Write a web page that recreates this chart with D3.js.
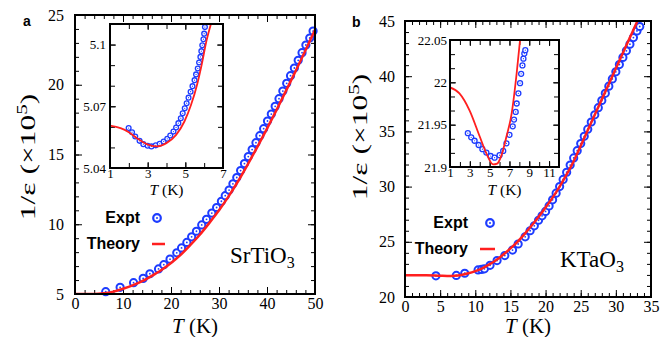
<!DOCTYPE html>
<html>
<head>
<meta charset="utf-8">
<script src="https://cdnjs.cloudflare.com/ajax/libs/d3/7.8.5/d3.min.js"></script>
<style>
  body { margin: 0; background: #fff; }
</style>
</head>
<body>
<div id="chart"></div>
<script>
// ---- panel a : SrTiO3 ----
const aExptT = [6.4, 9.4, 12.2, 14.2, 15.6, 17.4, 18.5, 19.8, 21.2, 22.2, 23.3, 24.3, 25.3, 26.4, 27.4, 28.5, 29.5, 30.5,
  31.3, 32.1, 32.9, 33.7, 34.5, 35.3, 36.1, 36.9, 37.7, 38.5, 39.3, 40.1, 40.9, 41.7, 42.5, 43.3, 44.1, 44.9, 45.7, 46.5,
  47.3, 48.1, 48.9, 49.6];
const aExptV = [5.17, 5.48, 5.81, 6.12, 6.45, 6.8, 7.1, 7.5, 7.95, 8.3, 8.7, 9.1, 9.5, 9.95, 10.35, 10.8, 11.2, 11.65,
  12.05, 12.45, 12.9, 13.35, 13.85, 14.35, 14.85, 15.35, 15.85, 16.35, 16.85, 17.4, 17.9, 18.45, 19.0, 19.55, 20.1, 20.65,
  21.2, 21.75, 22.3, 22.85, 23.35, 23.85];
const aTheoryT = [0, 4, 6, 8, 10, 12, 14, 16, 18, 20, 22, 24, 26, 28, 30, 32, 34, 36, 38, 40, 42, 44, 46, 48, 50];
const aTheoryV = [5.0, 5.0, 5.05, 5.17, 5.38, 5.62, 5.92, 6.3, 6.72, 7.22, 7.8, 8.5, 9.25, 10.1, 11.0, 12.0, 13.1, 14.3,
  15.55, 16.85, 18.2, 19.6, 21.0, 22.45, 23.95];
// inset a
const aInExptT = [1.99, 2.17, 2.34, 2.57, 2.77, 3.0, 3.2, 3.43, 3.64, 3.85, 4.04, 4.2, 4.37, 4.51, 4.63, 4.76, 4.86, 4.97,
  5.07, 5.17, 5.28, 5.38, 5.49, 5.57, 5.66, 5.73, 5.8, 5.85, 5.9, 5.96, 6.0, 6.04];
const aInExptV = [5.0594, 5.0574, 5.0553, 5.0532, 5.0516, 5.0508, 5.0505, 5.051, 5.0518, 5.0529, 5.0542, 5.0558, 5.0577,
  5.0597, 5.0618, 5.0642, 5.0666, 5.069, 5.0715, 5.0742, 5.0771, 5.0798, 5.0827, 5.0855, 5.0884, 5.0913, 5.094, 5.0968,
  5.0997, 5.1026, 5.1053, 5.1085];
const aInTheoryT = [1, 1.56, 2.0, 2.43, 2.95, 3.47, 3.99, 4.51, 4.95, 5.3, 5.64, 5.9, 6.11, 6.34, 6.45];
const aInTheoryV = [5.0606, 5.0594, 5.0574, 5.0545, 5.0516, 5.0505, 5.0521, 5.0561, 5.0626, 5.0706, 5.0811, 5.0916,
  5.1013, 5.1094, 5.113];

// ---- panel b : KTaO3 ----
const bExptT = [4.4, 7.3, 8.5, 10.4, 10.9, 11.3, 12.1, 13.1, 14.2, 15.3, 16.1, 17.1, 17.8, 18.4, 19.0, 19.5, 20.0, 20.5,
  21.0, 21.5, 22.0, 22.5, 23.0, 23.5, 24.0, 24.5, 25.0, 25.5, 26.0, 26.5, 27.0, 27.5, 28.0, 28.5, 29.0, 29.5, 30.0, 30.5,
  31.0, 31.5, 32.0, 32.5, 33.0, 33.4];
const bExptV = [21.92, 21.95, 22.15, 22.45, 22.5, 22.55, 22.87, 23.3, 23.75, 24.25, 24.8, 25.45, 26.0, 26.45, 26.95, 27.35,
  27.75, 28.25, 28.8, 29.4, 30.0, 30.65, 31.3, 31.95, 32.6, 33.25, 33.9, 34.55, 35.2, 35.85, 36.5, 37.15, 37.8, 38.45,
  39.1, 39.75, 40.4, 41.05, 41.7, 42.3, 42.9, 43.5, 44.1, 44.5];
const bTheoryT = [0, 3, 5, 6, 7, 8, 9, 10, 11, 12, 13, 14, 15, 16, 17, 18, 19, 20, 21, 22, 23, 24, 25, 26, 27, 28, 29, 30,
  31, 32, 33, 33.2];
const bTheoryV = [21.97, 21.96, 21.93, 21.91, 21.93, 22.0, 22.15, 22.35, 22.6, 22.95, 23.35, 23.85, 24.4, 25.0, 25.7,
  26.45, 27.25, 28.1, 29.0, 30.0, 31.1, 32.3, 33.7, 35.1, 36.5, 37.9, 39.3, 40.7, 42.1, 43.5, 44.9, 45.2];
// inset b
const bInExptT = [2.8, 3.14, 3.48, 3.89, 4.27, 4.67, 5.1, 5.5, 6.0, 6.37, 6.7, 7.0, 7.33, 7.46, 7.63, 7.73, 7.9, 8.07,
  8.18, 8.31, 8.41, 8.5, 8.6];
const bInExptV = [21.94, 21.935, 21.931, 21.926, 21.921, 21.917, 21.913, 21.911, 21.914, 21.919, 21.928, 21.938, 21.948,
  21.956, 21.965, 21.975, 21.987, 21.999, 22.01, 22.02, 22.028, 22.034, 22.038];
const bInTheoryT = [1, 1.95, 2.97, 4.0, 4.67, 5.35, 5.76, 6.2, 6.7, 7.22, 7.73, 8.07, 8.15];
const bInTheoryV = [21.994, 21.987, 21.967, 21.936, 21.916, 21.903, 21.904, 21.914, 21.936, 21.963, 22.011, 22.05, 22.06];

// tick values
const aXTicks = [0, 10, 20, 30, 40, 50];
const aYTicks = [5, 10, 15, 20, 25];
const aInXTicks = [1, 3, 5, 7];
const aInYTicks = [5.04, 5.07, 5.1];
const bXTicks = [0, 5, 10, 15, 20, 25, 30, 35];
const bYTicks = [20, 25, 30, 35, 40, 45];
const bInXTicks = [1, 3, 5, 7, 9, 11];
const bInYTicks = [21.9, 21.95, 22, 22.05];

const width = 665, height = 337;
const blue = "#1d3cff", red = "#ff1f1f";
const serif = "Liberation Serif, Times New Roman, serif";
const sans = "Liberation Sans, Arial, sans-serif";

let svg = d3.select("#chart").append("svg")
  .attr("width", width)
  .attr("height", height)
  .attr("font-family", serif);

let clipId = 0;

function drawPanel(p) {
  const x = d3.scaleLinear().domain(p.xDomain).range([p.left, p.right]);
  const y = d3.scaleLinear().domain(p.yDomain).range([p.bottom, p.top]);
  const g = svg.append("g");

  if (p.inset) {
    g.append("rect")
      .attr("x", p.left).attr("y", p.top)
      .attr("width", p.right - p.left).attr("height", p.bottom - p.top)
      .attr("fill", "#fff");
  }

  // inward ticks on all four sides, major + minor
  const sides = [
    { axis: d3.axisBottom, sc: x, tr: `translate(0,${p.bottom})`, major: p.xTicks, minor: p.xMinor, labels: true },
    { axis: d3.axisTop, sc: x, tr: `translate(0,${p.top})`, major: p.xTicks, minor: p.xMinor, labels: false },
    { axis: d3.axisLeft, sc: y, tr: `translate(${p.left},0)`, major: p.yTicks, minor: p.yMinor, labels: true },
    { axis: d3.axisRight, sc: y, tr: `translate(${p.right},0)`, major: p.yTicks, minor: p.yMinor, labels: false }
  ];
  sides.forEach(s => {
    const isX = s.sc === x;
    const minorAx = s.axis(s.sc).tickValues(s.minor).tickSize(-p.minorLen).tickFormat("");
    g.append("g").attr("transform", s.tr).call(minorAx).call(a => a.select(".domain").remove());
    const majorAx = s.axis(s.sc).tickValues(s.major).tickSize(-p.majorLen)
      .tickPadding(isX ? p.xPad : p.yPad)
      .tickFormat(s.labels ? p.fmt : "");
    g.append("g").attr("transform", s.tr).call(majorAx)
      .call(a => a.select(".domain").remove())
      .call(a => a.selectAll("text").attr("font-size", p.tickFont)
        .attr("font-family", serif).attr("fill", "#000"));
  });
  g.selectAll(".tick line").attr("stroke", "#000").attr("stroke-width", 1);

  // clip
  const cid = "clip" + (clipId++);
  g.append("clipPath").attr("id", cid).append("rect")
    .attr("x", p.left).attr("y", p.top)
    .attr("width", p.right - p.left).attr("height", p.bottom - p.top);

  // experiment circles
  const pts = p.exptT.map((t, i) => ({ t: t, v: p.exptV[i] }));
  const cg = g.append("g");
  if (p.inset) cg.attr("clip-path", `url(#${cid})`);
  cg.selectAll("circle.ring").data(pts).enter().append("circle")
    .attr("cx", d => x(d.t)).attr("cy", d => y(d.v))
    .attr("r", p.r).attr("fill", "#fff")
    .attr("stroke", blue).attr("stroke-width", p.sw);
  cg.selectAll("circle.dot").data(pts).enter().append("circle")
    .attr("cx", d => x(d.t)).attr("cy", d => y(d.v))
    .attr("r", p.dot).attr("fill", blue);

  // theory line
  const th = p.theoryT.map((t, i) => ({ t: t, v: p.theoryV[i] }));
  g.append("path").datum(th)
    .attr("clip-path", `url(#${cid})`)
    .attr("fill", "none").attr("stroke", red).attr("stroke-width", p.lw)
    .attr("d", d3.line().x(d => x(d.t)).y(d => y(d.v)).curve(d3.curveMonotoneX));

  // frame
  g.append("rect")
    .attr("x", p.left).attr("y", p.top)
    .attr("width", p.right - p.left).attr("height", p.bottom - p.top)
    .attr("fill", "none").attr("stroke", "#000").attr("stroke-width", p.frame);

  // x title  T (K)
  const xt = g.append("text")
    .attr("x", (p.left + p.right) / 2).attr("y", p.xTitleY)
    .attr("text-anchor", "middle").attr("font-size", p.titleFont);
  xt.append("tspan").attr("font-style", "italic").text("T");
  xt.append("tspan").text(" (K)");
  return { x, y };
}

function range(a, b, s) {
  const out = [];
  for (let v = a; v <= b + 1e-9; v += s) out.push(+v.toFixed(4));
  return out;
}

const fmtNum = d => String(+d.toFixed(2));

// panel a main
drawPanel({
  left: 75, right: 315, top: 15, bottom: 294,
  xDomain: [0, 50], yDomain: [5, 25],
  xTicks: aXTicks, yTicks: aYTicks, xMinor: range(0, 50, 2), yMinor: range(5, 25, 1),
  majorLen: 7, minorLen: 4, xPad: 4, yPad: 11, tickFont: 16, fmt: fmtNum,
  exptT: aExptT, exptV: aExptV, theoryT: aTheoryT, theoryV: aTheoryV,
  r: 3.6, sw: 2, dot: 0.9, lw: 2.5, frame: 2, titleFont: 21, xTitleY: 333
});
// inset a
drawPanel({
  inset: true, left: 110, right: 223, top: 24, bottom: 168,
  xDomain: [1, 7], yDomain: [5.04, 5.11],
  xTicks: aInXTicks, yTicks: aInYTicks, xMinor: range(1, 7, 1), yMinor: range(5.04, 5.11, 0.01),
  majorLen: 6, minorLen: 5, xPad: 1, yPad: 4, tickFont: 13, fmt: fmtNum,
  exptT: aInExptT, exptV: aInExptV, theoryT: aInTheoryT, theoryV: aInTheoryV,
  r: 2.4, sw: 1.3, dot: 0.6, lw: 1.8, frame: 2, titleFont: 15.5, xTitleY: 195
});
// panel b main
drawPanel({
  left: 405, right: 651, top: 21, bottom: 297,
  xDomain: [0, 35], yDomain: [20, 45],
  xTicks: bXTicks, yTicks: bYTicks, xMinor: range(0, 35, 1), yMinor: range(20, 45, 1),
  majorLen: 7, minorLen: 4, xPad: 4, yPad: 10, tickFont: 16, fmt: fmtNum,
  exptT: bExptT, exptV: bExptV, theoryT: bTheoryT, theoryV: bTheoryV,
  r: 3.6, sw: 2, dot: 0.9, lw: 2.5, frame: 2, titleFont: 21, xTitleY: 333
});
// inset b
drawPanel({
  inset: true, left: 450, right: 559, top: 40, bottom: 167,
  xDomain: [1, 12], yDomain: [21.9, 22.05],
  xTicks: bInXTicks, yTicks: bInYTicks, xMinor: range(1, 12, 1), yMinor: range(21.9, 22.05, 0.05 / 3),
  majorLen: 6, minorLen: 5, xPad: 1, yPad: 3, tickFont: 13, fmt: fmtNum,
  exptT: bInExptT, exptV: bInExptV, theoryT: bInTheoryT, theoryV: bInTheoryV,
  r: 2.5, sw: 1.3, dot: 0.6, lw: 1.8, frame: 2, titleFont: 15.5, xTitleY: 195
});

// y titles 1/ε (×10^5), stretched along the baseline as in the original
function yTitle(cx, cy) {
  const t = svg.append("text")
    .attr("transform", `translate(${cx},${cy}) rotate(-90) scale(1.5,1)`)
    .attr("text-anchor", "middle").attr("font-size", 21);
  t.append("tspan").text("1/ε (×10");
  t.append("tspan").attr("font-size", 14).attr("dy", -8).text("5");
  t.append("tspan").attr("dy", 8).text(")");
}
yTitle(35, 157);
yTitle(367, 137);

// legends
function legend(ex, ey, cx, lx1, lx2, ty) {
  svg.append("text").attr("x", ex).attr("y", ey).attr("text-anchor", "end")
    .attr("font-family", sans).attr("font-weight", "bold")
    .attr("font-size", 16).text("Expt");
  svg.append("circle").attr("cx", cx).attr("cy", ey - 5).attr("r", 3.8)
    .attr("fill", "#fff").attr("stroke", blue).attr("stroke-width", 2.2);
  svg.append("circle").attr("cx", cx).attr("cy", ey - 5).attr("r", 1).attr("fill", blue);
  svg.append("text").attr("x", ex).attr("y", ty).attr("text-anchor", "end")
    .attr("font-family", sans).attr("font-weight", "bold")
    .attr("font-size", 16).text("Theory");
  svg.append("line").attr("x1", lx1).attr("x2", lx2).attr("y1", ty - 5).attr("y2", ty - 5)
    .attr("stroke", red).attr("stroke-width", 2.5);
}
legend(140, 223, 157, 152, 165, 249);
legend(468, 228, 490, 480, 495, 254);

// material labels
function material(x0, y0, base) {
  const t = svg.append("text").attr("x", x0).attr("y", y0).attr("font-size", 23);
  t.append("tspan").text(base);
  t.append("tspan").attr("font-size", 16).attr("dy", 5).text("3");
}
material(230, 263, "SrTiO");
material(560, 267, "KTaO");

// panel letters
svg.append("text").attr("x", 23).attr("y", 26)
  .attr("font-family", sans).attr("font-weight", "bold")
  .attr("font-size", 14).text("a");
svg.append("text").attr("x", 352).attr("y", 27)
  .attr("font-family", sans).attr("font-weight", "bold")
  .attr("font-size", 14).text("b");
</script>
</body>
</html>
